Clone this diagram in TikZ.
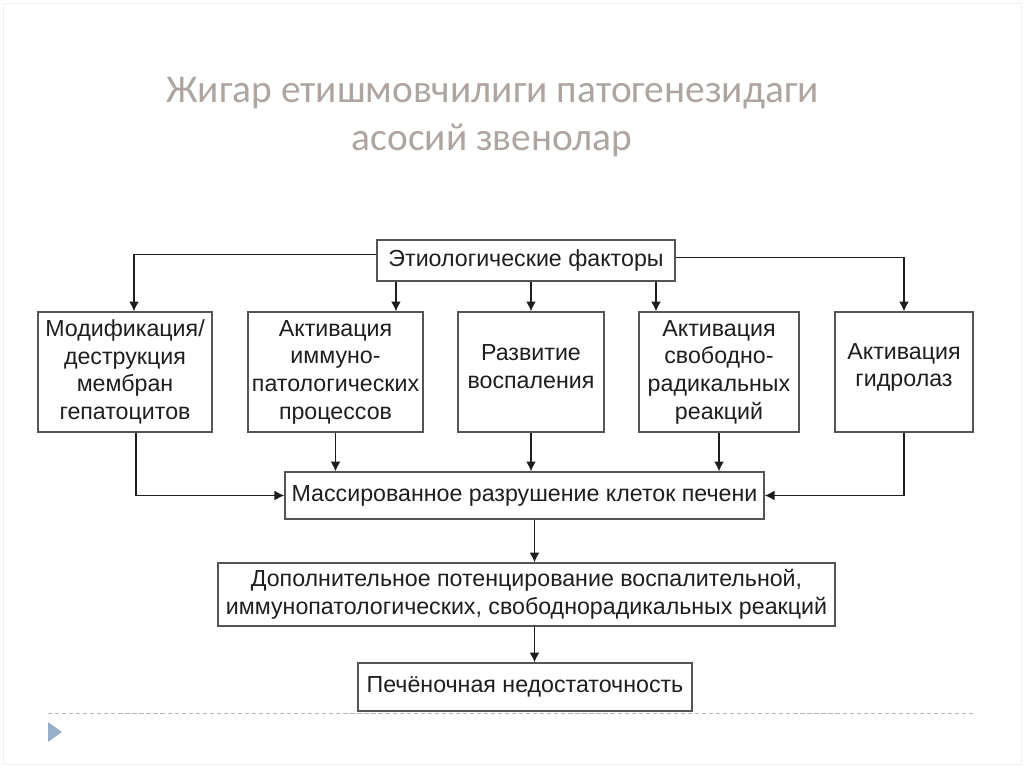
\documentclass[tikz,border=0pt]{standalone}
\usepackage{fontspec}
\usepackage{tikz}
\usetikzlibrary{arrows.meta}
\setmainfont{Liberation Sans}
\newfontfamily\titlefont{Carlito}
\definecolor{titlegray}{RGB}{174,164,160}
\definecolor{boxgray}{RGB}{85,85,85}
\definecolor{inkgray}{RGB}{30,30,30}
\definecolor{rulegray}{RGB}{170,184,198}
\definecolor{markblue}{RGB}{150,176,201}

\begin{document}
\begin{tikzpicture}[x=0.025cm, y=-0.025cm,
	 >={Latex[length=7pt,width=7pt]},
	 box/.style={draw=boxgray, line width=0.9pt, align=center, inner sep=2pt,
	   text=inkgray, font=\fontsize{16.5}{19.7}\selectfont},
	 link/.style={->, draw=inkgray, line width=0.9pt},
	 titletext/.style={text=titlegray, font=\titlefont\fontsize{28}{34}\selectfont, anchor=base}]
	    \useasboundingbox (0,0) rectangle (1024,767);
	    \draw[gray!12] (3,3) rectangle (1021,764);
	    \node at (492.5,103) [titletext] (title) {Жигар етишмовчилиги патогенезидаги};
	    \node at (492,151) [titletext] (subtitle) {асосий звенолар};
	    % top and middle row
	    \node at (526,260.5) [box, minimum width=7.45cm, minimum height=1.025cm] (etio) {Этиологические факторы};
	    \node at (125,372) [box, minimum width=4.35cm, minimum height=3cm] (mod) {Модификация/\\деструкция\\мембран\\гепатоцитов};
	    \node at (335.5,372) [box, minimum width=4.375cm, minimum height=3cm] (immun) {Активация\\иммуно-\\патологических\\процессов};
	    \node at (531,372) [box, minimum width=3.65cm, minimum height=3cm, text depth=8pt] (infl) {Развитие\\воспаления};
	    \node at (719,372) [box, minimum width=4cm, minimum height=3cm] (radic) {Активация\\свободно-\\радикальных\\реакций};
	    \node at (904,372) [box, minimum width=3.45cm, minimum height=3cm, text depth=10pt] (hydro) {Активация\\гидролаз};
	    % lower chain
	    \node at (524.5,495.5) [box, minimum width=11.975cm, minimum height=1.175cm] (mass) {Массированное разрушение клеток печени};
	    \node at (526.5,594.5) [box, minimum width=15.425cm, minimum height=1.575cm] (extra) {Дополнительное потенцирование воспалительной,\\иммунопатологических, свободнорадикальных реакций};
	    \node at (525,687) [box, minimum width=8.35cm, minimum height=1.2cm] (fail) {Печёночная недостаточность};
	    % arrows from the factors
	    \coordinate (a1) at ([xshift=0.225cm]mod.north);
	    \coordinate (a2) at ([xshift=1.51cm]immun.north);
	    \coordinate (a4) at ([xshift=-1.575cm]radic.north);
	    \draw[link] ([yshift=0.15cm]etio.west) -| (a1);
	    \draw[link] (etio.south -| a2) -- (a2);
	    \draw[link] (etio.south -| infl.north) -- (infl.north);
	    \draw[link] (etio.south -| a4) -- (a4);
	    \draw[link] ([yshift=0.075cm]etio.east) -| (hydro.north);
	    % arrows into the destruction box
	    \draw[link] ([xshift=0.275cm]mod.south) |- (mass.west);
	    \draw[link] (immun.south) -- (immun.south |- mass.north);
	    \draw[link] (infl.south) -- (infl.south |- mass.north);
	    \draw[link] (radic.south) -- (radic.south |- mass.north);
	    \draw[link] (hydro.south) |- (mass.east);
	    \coordinate (b1) at ([xshift=0.25cm]mass.south);
	    \coordinate (b2) at ([xshift=0.2cm]extra.south);
	    \draw[link] (b1) -- (b1 |- extra.north);
	    \draw[link] (b2) -- (b2 |- fail.north);
	    % slide footer
	    \coordinate (r1) at (48,713);
	    \coordinate (r2) at (976,713);
	    \draw[rulegray, line width=0.6pt, dash pattern=on 3pt off 2pt] (r1) -- (r2);
	    \fill[markblue] (48,722) -- (62,732) -- (48,742) -- cycle;
\end{tikzpicture}
\end{document}
